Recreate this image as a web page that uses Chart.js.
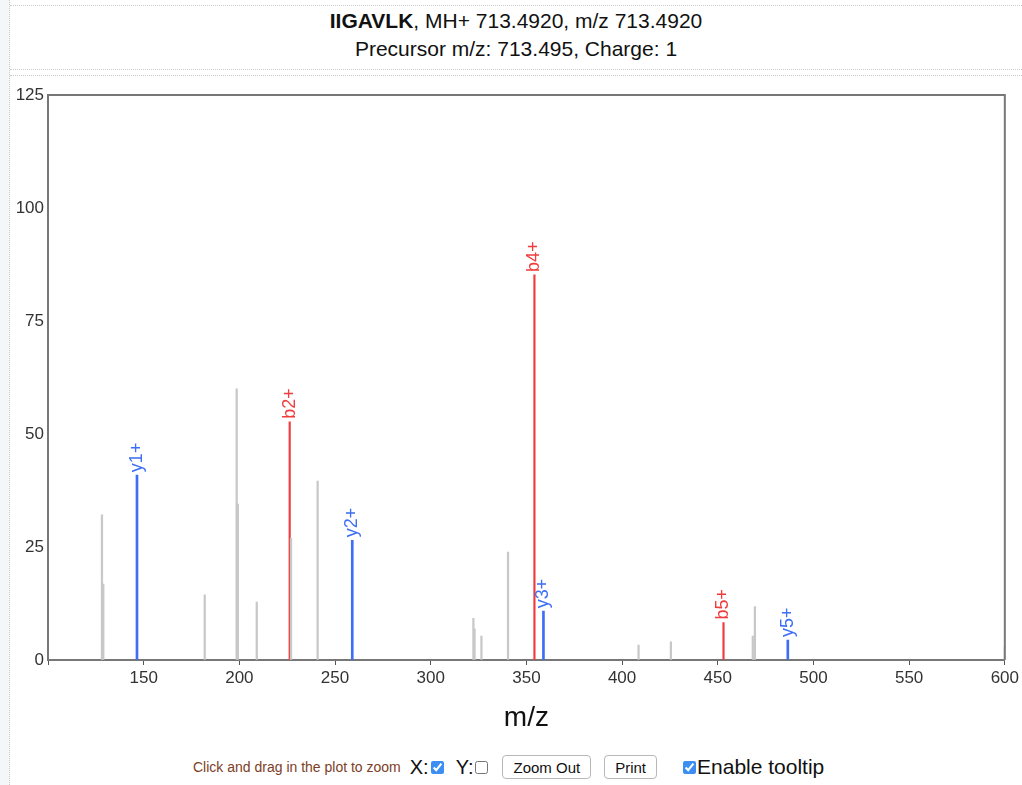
<!DOCTYPE html>
<html>
<head>
<meta charset="utf-8">
<script src="https://cdn.jsdelivr.net/npm/chart.js@4/dist/chart.umd.min.js"></script>
<style>
  body { margin: 0; background: #fff; font-family: "Liberation Sans", Arial, sans-serif; }
  #strip { position: absolute; left: 0; top: 0; width: 9px; height: 785px; background: #f4f7f8; border-right: 1px dotted #c8cccc; }
  #titleBox { position: absolute; left: 10px; top: 5px; width: 1012px; height: 63px; border-top: 1px dotted #c8cccc; border-bottom: 1px dotted #c8cccc; text-align: center; color: #111; }
  #titleBox .l1 { position: absolute; left: 0; right: 0; top: 3px; font-size: 21px; }
  #titleBox .l2 { position: absolute; left: 0; right: 0; top: 31px; font-size: 21px; }
  #chartBox { position: absolute; left: 10px; top: 75px; width: 1012px; height: 710px; border-top: 1px dotted #c8cccc; }
  #spectrum { position: absolute; left: 10px; top: 76px; }
  #controls { position: absolute; left: 193px; top: 755px; display: flex; align-items: center; height: 24px; color: #111; }
  #controls .hint { font-size: 14px; color: #7d4026; margin-right: 9px; }
  #controls .lab { font-size: 20px; }
  #controls input[type=checkbox] { width: 13px; height: 13px; margin: 0 1px 0 2px; accent-color: #3d8ef2; }
  #controls button { font-family: inherit; font-size: 15px; background: #fff; border: 1px solid #b8b8b8; border-radius: 4px; height: 24px; padding: 0 10px; margin-left: 13px; color: #111; }
</style>
</head>
<body>
<div id="strip"></div>
<div id="titleBox">
  <div class="l1"><b>IIGAVLK</b>, MH+ 713.4920, m/z 713.4920</div>
  <div class="l2">Precursor m/z: 713.495, Charge: 1</div>
</div>
<div id="chartBox"></div>
<canvas id="spectrum" width="1012" height="674" style="width:1012px;height:674px"></canvas>
<div id="controls">
  <span class="hint">Click and drag in the plot to zoom</span>
  <span class="lab">X:</span><input type="checkbox" checked>
  <span class="lab" style="margin-left:11px">Y:</span><input type="checkbox">
  <button>Zoom Out</button>
  <button>Print</button>
  <input type="checkbox" checked style="margin-left:26px">
  <span class="lab" style="font-size:21px">Enable tooltip</span>
</div>
<script>
// unannotated peaks
const otherMz = [128.2, 128.9, 181.9, 198.6, 199.2, 209.1, 227.0, 240.9, 322.3, 322.9, 326.5, 340.4, 408.6, 425.5, 468.3, 469.4, 600.0];
const otherInt = [32.1, 16.8, 14.4, 60.0, 34.5, 12.8, 27.0, 39.6, 9.2, 6.9, 5.3, 23.9, 3.3, 4.0, 5.3, 11.8, 2.9];

// b ions
const bMz = [226.3, 354.2, 453.0];
const bInt = [52.7, 85.2, 8.3];
const bLabels = ["b2+", "b4+", "b5+"];

// y ions
const yMz = [146.5, 259.0, 358.9, 486.6];
const yInt = [40.9, 26.5, 10.8, 4.4];
const yLabels = ["y1+", "y2+", "y3+", "y5+"];

const xTicks = [100, 600, 50];
const yTicks = [0, 125, 25];

const AXIS = "#777";
const TICK_TEXT = "#333";
const FONT = '"Liberation Sans", Arial, sans-serif';

function toPoints(xs, ys) {
  return xs.map((x, i) => ({ x: x, y: ys[i] }));
}

const frame = {
  id: "frame",
  afterDraw(chart) {
    const a = chart.chartArea;
    const ctx = chart.ctx;
    ctx.save();
    ctx.strokeStyle = AXIS;
    ctx.lineWidth = 2;
    ctx.beginPath();
    ctx.moveTo(a.left, a.top);
    ctx.lineTo(a.right, a.top);
    ctx.lineTo(a.right, a.bottom);
    ctx.stroke();
    ctx.restore();
  },
};

const peakLabels = {
  id: "peakLabels",
  afterDatasetsDraw(chart) {
    const ctx = chart.ctx;
    chart.data.datasets.forEach((ds, di) => {
      if (!ds.ionLabels) return;
      const meta = chart.getDatasetMeta(di);
      meta.data.forEach((bar, i) => {
        ctx.save();
        ctx.translate(bar.x, bar.y - 3);
        ctx.rotate(-Math.PI / 2);
        ctx.font = "18px " + FONT;
        ctx.fillStyle = ds.backgroundColor;
        ctx.textAlign = "left";
        ctx.textBaseline = "middle";
        ctx.fillText(ds.ionLabels[i], 0, 0);
        ctx.restore();
      });
    });
  },
};

const ctx = document.getElementById("spectrum").getContext("2d");
new Chart(ctx, {
  type: "bar",
  data: {
    datasets: [
      {
        label: "peaks",
        data: toPoints(otherMz, otherInt),
        backgroundColor: "#c8c8c8",
        barThickness: 1.6,
      },
      {
        label: "b ions",
        data: toPoints(bMz, bInt),
        backgroundColor: "#f03c3c",
        barThickness: 1.5,
        ionLabels: bLabels,
      },
      {
        label: "y ions",
        data: toPoints(yMz, yInt),
        backgroundColor: "#3d6ef5",
        barThickness: 2,
        ionLabels: yLabels,
      },
    ],
  },
  options: {
    responsive: false,
    animation: false,
    grouped: false,
    layout: { padding: { top: 19, right: 16, left: 0, bottom: 0 } },
    plugins: { legend: { display: false }, tooltip: { enabled: false } },
    scales: {
      x: {
        type: "linear",
        offset: false,
        min: xTicks[0],
        max: xTicks[1],
        afterFit: (s) => { s.height = 90; },
        border: { color: AXIS, width: 2 },
        grid: { offset: false, drawOnChartArea: false, drawTicks: true, tickLength: 5, color: "#555" },
        ticks: {
          stepSize: xTicks[2],
          padding: 3,
          maxRotation: 0,
          color: TICK_TEXT,
          font: { size: 17, family: FONT },
          callback: (v) => (v === xTicks[0] ? "" : v),
        },
        title: {
          display: true,
          text: "m/z",
          color: "#111",
          font: { size: 28, family: FONT },
          padding: { top: 0, bottom: 15 },
        },
      },
      y: {
        min: yTicks[0],
        max: yTicks[1],
        afterFit: (s) => { s.width = 38; },
        border: { color: AXIS, width: 2 },
        grid: { drawOnChartArea: false, drawTicks: false },
        ticks: {
          stepSize: yTicks[2],
          padding: 4,
          color: TICK_TEXT,
          font: { size: 17, family: FONT },
        },
      },
    },
  },
  plugins: [frame, peakLabels],
});
</script>
</body>
</html>
